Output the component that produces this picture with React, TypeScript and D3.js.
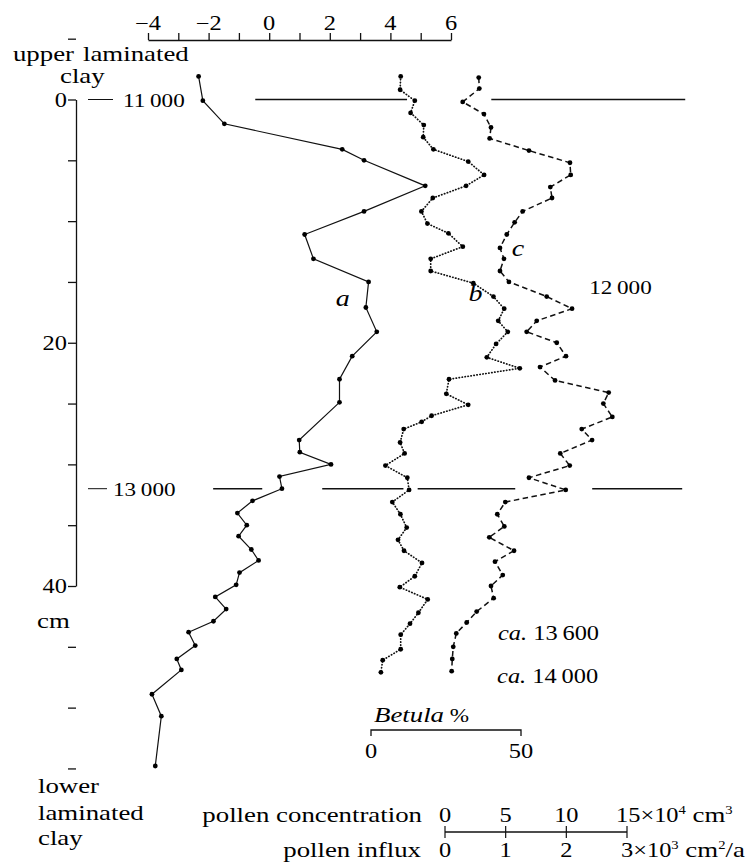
import React, { useEffect, useRef } from "react";
import * as d3 from "d3";

// Depth profile: curve a (top scale), Betula % (b) and pollen concentration (c) against depth in cm.

const depthA = [-1.9, 0.1, 2.0, 4.1, 5.0, 7.1, 9.2, 11.1, 13.1, 15.0, 17.1, 19.1, 21.1, 23.0, 24.9, 28.0, 29.0, 30.0, 31.0, 32.0, 33.0, 34.0, 35.0, 35.9, 37.0, 37.9, 38.9, 39.9, 40.9, 41.9, 42.9, 43.8, 44.9, 46.0, 46.9, 48.9, 50.7, 54.8];
const valueA = [-2.33, -2.19, -1.48, 2.41, 3.13, 5.15, 3.13, 1.17, 1.46, 3.28, 3.19, 3.55, 2.74, 2.32, 2.32, 0.99, 1.01, 2.04, 0.34, 0.42, -0.55, -1.05, -0.74, -1.01, -0.59, -0.35, -0.98, -1.09, -1.78, -1.42, -1.84, -2.66, -2.44, -3.05, -2.9, -3.87, -3.56, -3.76];

const depthB = [-1.9, -0.8, 0.1, 1.1, 2.1, 3.1, 4.1, 5.1, 6.2, 7.1, 8.1, 9.2, 10.2, 11.0, 12.1, 13.1, 14.1, 15.1, 16.2, 17.2, 18.2, 19.1, 20.1, 21.2, 22.1, 23.0, 24.2, 25.1, 26.0, 26.5, 27.1, 28.2, 29.1, 30.1, 31.1, 32.1, 33.1, 34.1, 35.2, 36.2, 37.1, 38.1, 39.2, 40.1, 41.1, 42.2, 43.1, 44.0, 45.2, 46.1, 47.1];
const betulaB = [9.9, 9.7, 14.6, 13.2, 17.6, 17.4, 20.8, 32.4, 37.7, 31.7, 20.6, 16.8, 18.8, 25.8, 30.6, 19.9, 19.9, 34.1, 40.8, 44.4, 42.4, 45.6, 41.7, 38.6, 49.6, 26.0, 25.1, 32.4, 20.2, 16.9, 10.9, 9.7, 11.2, 4.8, 12.1, 12.7, 7.1, 9.8, 11.9, 9.0, 11.0, 17.0, 14.6, 9.6, 18.9, 15.8, 13.0, 9.9, 9.9, 3.9, 3.3];

const depthC = [-1.8, -0.9, 0.2, 1.2, 2.3, 3.2, 4.2, 5.2, 6.2, 7.2, 8.1, 9.2, 10.1, 11.1, 12.2, 13.1, 14.1, 15.0, 16.2, 17.2, 18.2, 19.1, 20.0, 21.1, 22.0, 23.1, 24.1, 25.0, 26.1, 27.1, 28.0, 29.1, 30.1, 31.1, 32.1, 33.1, 34.1, 35.1, 36.0, 37.1, 38.0, 39.1, 40.0, 41.0, 42.1, 43.0, 43.9, 45.0, 46.0, 47.0];
const concC = [2.78, 2.83, 1.46, 3.21, 3.79, 3.68, 6.92, 10.3, 10.36, 8.68, 8.82, 6.4, 5.74, 5.09, 4.53, 4.86, 4.53, 5.27, 8.38, 10.47, 7.56, 6.73, 9.21, 9.97, 7.83, 9.07, 13.49, 13.05, 13.79, 11.27, 12.12, 9.5, 10.28, 6.92, 9.95, 4.97, 4.31, 4.89, 3.65, 5.69, 4.12, 4.76, 3.79, 4.01, 2.61, 1.79, 0.93, 0.68, 0.6, 0.55];

const topTicks = [-4, -3, -2, -1, 0, 1, 2, 3, 4, 5, 6];
const topLabels = [-4, -2, 0, 2, 4, 6];
const depthTicks = [-5, 0, 5, 10, 15, 20, 25, 30, 35, 40, 45, 50, 55];
const depthLabels = [0, 20, 40];
const betulaTicks = [0, 50];
const concTicks = [0, 5, 10, 15];
const influxTicks = [0, 1, 2, 3];

// radiocarbon horizons: depth (cm), date, line pieces in top-scale units
const horizonDepths = [0, 32];
const horizonDates = ["11\u2009000", "13\u2009000"];
const horizonPieces = [
  [[-0.46, 4.55], [7.33, 13.73]],
  [[-1.85, -0.23], [1.75, 4.43], [4.9, 8.12], [10.66, 13.63]],
];

const SERIF = '"Liberation Serif", "DejaVu Serif", "Noto Serif", "Times New Roman", Times, serif';
const WIDE = 1.22; // horizontal stretch to get a wide schoolbook look
const WORD = 22;
const NUM = 19;

export default function App() {
  const ref = useRef<SVGSVGElement>(null);

  useEffect(() => {
    const svg = d3.select(ref.current);
    svg.selectAll("*").remove();

    const y = d3.scaleLinear().domain([0, 40]).range([99.5, 586]);
    const xA = d3.scaleLinear().domain([-4, 6]).range([148, 451]);
    const xB = d3.scaleLinear().domain([0, 50]).range([371, 521]);
    const xC = d3.scaleLinear().domain([0, 15]).range([445, 627]);
    const xI = d3.scaleLinear().domain([0, 3]).range([445, 627]);

    svg.append("rect").attr("width", 748).attr("height", 862).attr("fill", "#fff");

    const txt = (x: number, yy: number, s: string, size = WORD, anchor = "start", italic = false) =>
      svg
        .append("text")
        .attr("transform", `translate(${x},${yy}) scale(${WIDE},1)`)
        .style("font-family", SERIF)
        .style("font-size", `${size}px`)
        .style("font-style", italic ? "italic" : "normal")
        .attr("text-anchor", anchor)
        .attr("fill", "#000")
        .text(s);

    // top scale
    const gTop = svg
      .append("g")
      .attr("transform", "translate(0,40)")
      .call(d3.axisTop(xA).tickValues(topTicks).tickSize(7).tickSizeOuter(0).tickFormat(() => ""));
    gTop.selectAll("path, line").attr("stroke", "#111").attr("stroke-width", 1.3);
    topLabels.forEach((t) => txt(xA(t), 30, d3.format("")(t), NUM + 1, "middle"));

    // depth axis (bracket)
    const gLeft = svg
      .append("g")
      .attr("transform", "translate(76,0)")
      .call(d3.axisLeft(y).tickValues(depthTicks).tickSize(8).tickSizeOuter(0).tickFormat(() => ""));
    gLeft.selectAll("path, line").attr("stroke", "#111").attr("stroke-width", 1.3);
    depthLabels.forEach((d) => txt(67, y(d) + 7, String(d), NUM + 1, "end"));

    txt(74, 61, "upper", WORD, "end");
    txt(83, 61, "laminated");
    txt(60, 83, "clay");
    txt(37, 628, "cm");
    txt(38, 793, "lower");
    txt(38, 820, "laminated");
    txt(38, 845, "clay");

    // horizons
    horizonDepths.forEach((h, i) => {
      const yy = y(h);
      svg.append("line").attr("x1", 88).attr("x2", i === 0 ? 113 : 107).attr("y1", yy).attr("y2", yy).attr("stroke", "#111").attr("stroke-width", 1);
      txt(i === 0 ? 123 : 113, yy + 7, horizonDates[i], NUM);
      horizonPieces[i].forEach((p) => {
        svg
          .append("line")
          .attr("x1", xA(p[0]))
          .attr("x2", xA(p[1]))
          .attr("y1", yy)
          .attr("y2", yy)
          .attr("stroke", "#111")
          .attr("stroke-width", 1.4);
      });
    });

    // curves
    const series = [
      { xs: valueA, ds: depthA, sx: xA, dash: null as string | null, w: 1.2, cap: "butt" },
      { xs: betulaB, ds: depthB, sx: xB, dash: "0.4,2.6", w: 1.7, cap: "round" },
      { xs: concC, ds: depthC, sx: xC, dash: "5.5,3.5", w: 1.5, cap: "butt" },
    ];
    series.forEach((s) => {
      const line = d3
        .line<number>()
        .x((v) => s.sx(v))
        .y((_, i) => y(s.ds[i]));
      svg
        .append("path")
        .attr("d", line(s.xs))
        .attr("fill", "none")
        .attr("stroke", "#111")
        .attr("stroke-width", s.w)
        .attr("stroke-linecap", s.cap)
        .attr("stroke-dasharray", s.dash);
      svg
        .append("g")
        .selectAll("circle")
        .data(s.xs)
        .join("circle")
        .attr("cx", (v) => s.sx(v))
        .attr("cy", (_, i) => y(s.ds[i]))
        .attr("r", 2.4)
        .attr("fill", "#000");
    });

    txt(xA(2.2), y(16.95), "a", WORD + 1, "start", true);
    txt(xB(32.5), y(16.6), "b", WORD + 1, "start", true);
    txt(xC(5.5), y(12.9), "c", WORD + 1, "start", true);

    txt(xA(10.56), y(16), "12\u2009000", NUM);
    const ca1 = txt(xA(7.55), y(44.4), "", NUM + 1);
    ca1.append("tspan").style("font-style", "italic").text("ca.");
    ca1.append("tspan").text(" 13\u2009600");
    const ca2 = txt(xA(7.52), y(48), "", NUM + 1);
    ca2.append("tspan").style("font-style", "italic").text("ca.");
    ca2.append("tspan").text(" 14\u2009000");

    // Betula % scale
    const bt = txt(xB(1), 722, "", WORD);
    bt.append("tspan").style("font-style", "italic").text("Betula");
    bt.append("tspan").style("font-size", `${NUM}px`).text(" %");
    svg
      .append("path")
      .attr("d", `M${xB(betulaTicks[0])},736V730H${xB(betulaTicks[1])}V736`)
      .attr("fill", "none")
      .attr("stroke", "#111")
      .attr("stroke-width", 1.3);
    betulaTicks.forEach((t) => txt(xB(t), 758, String(t), NUM + 1, "middle"));

    // pollen concentration / influx scale
    txt(422, 822, "pollen concentration", WORD, "end");
    txt(421, 857, "pollen influx", WORD, "end");
    svg
      .append("line")
      .attr("x1", xC(0))
      .attr("x2", xC(15))
      .attr("y1", 832)
      .attr("y2", 832)
      .attr("stroke", "#111")
      .attr("stroke-width", 1.3);
    concTicks.forEach((t) => {
      svg.append("line").attr("x1", xC(t)).attr("x2", xC(t)).attr("y1", 826).attr("y2", 838).attr("stroke", "#111").attr("stroke-width", 1.2);
    });
    concTicks.slice(0, -1).forEach((t) => txt(xC(t), 822, String(t), NUM + 1, "middle"));
    const sup = (sel: any, s: string) => sel.append("tspan").style("font-size", "12px").attr("dy", -8).text(s);
    const cl = txt(xC(15) - 11, 822, "", NUM + 1);
    cl.append("tspan").text("15×10");
    sup(cl, "4");
    cl.append("tspan").style("font-size", `${WORD}px`).attr("dy", 8).text(" cm");
    sup(cl, "3");
    influxTicks.slice(0, -1).forEach((t) => txt(xI(t), 857, String(t), NUM + 1, "middle"));
    const il = txt(xI(3) - 6, 857, "", NUM + 1);
    il.append("tspan").text("3×10");
    sup(il, "3");
    il.append("tspan").style("font-size", `${WORD}px`).attr("dy", 8).text(" cm");
    sup(il, "2");
    il.append("tspan").style("font-size", `${WORD}px`).attr("dy", 8).text("/a");
  }, []);

  return (
    <svg
      ref={ref}
      width={748}
      height={862}
      style={{ position: "absolute", left: 0, top: 0 }}
    />
  );
}
